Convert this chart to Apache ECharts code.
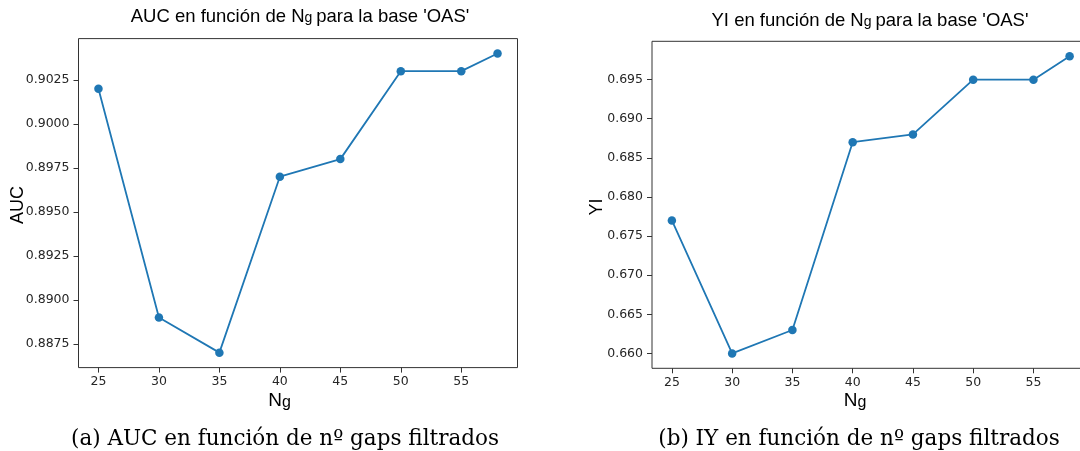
<!DOCTYPE html>
<html><head><meta charset="utf-8">
<script src="https://cdn.jsdelivr.net/npm/echarts@6/dist/echarts.min.js"></script>
<style>html,body{margin:0;padding:0;background:#fff}#c{width:1080px;height:451px}</style>
</head><body><div id="c"></div>
<script>
const ng = [25, 30, 35, 40, 45, 50, 55, 58];
const auc = [0.902, 0.889, 0.887, 0.897, 0.898, 0.903, 0.903, 0.904];
const yi = [0.677, 0.660, 0.663, 0.687, 0.688, 0.695, 0.695, 0.698];
const xTicks = [25, 30, 35, 40, 45, 50, 55];
const aucTicks = [0.8875, 0.8900, 0.8925, 0.8950, 0.8975, 0.9000, 0.9025];
const yiTicks = [0.660, 0.665, 0.670, 0.675, 0.680, 0.685, 0.690, 0.695];

const chart = echarts.init(document.getElementById('c'), null, {renderer: 'canvas'});
const C = '#1f77b4';
const tickFont = {fontFamily: 'DejaVu Sans', fontSize: 12.5, color: '#262626'};
function pad(arr, m) { const lo = Math.min(...arr), hi = Math.max(...arr), d = (hi - lo) * m; return [lo - d, hi + d]; }
const xr = pad(ng, 0.05), ar = pad(auc, 0.05), yr = pad(yi, 0.05);
function xAx(i) {
  return {type: 'value', gridIndex: i, min: xr[0], max: xr[1],
    axisLine: {show: false}, splitLine: {show: false},
    axisTick: {show: true, length: 5, customValues: xTicks, lineStyle: {color: '#333'}},
    axisLabel: Object.assign({customValues: xTicks, margin: 8}, tickFont)};
}
function yAx(i, r, t, dec) {
  return {type: 'value', gridIndex: i, min: r[0], max: r[1],
    axisLine: {show: false}, splitLine: {show: false},
    axisTick: {show: true, length: 5, customValues: t, lineStyle: {color: '#333'}},
    axisLabel: Object.assign({customValues: t, margin: 9, formatter: v => v.toFixed(dec)}, tickFont)};
}
const lab = (x, y, txt, size, extra) => Object.assign({type: 'text', x: x, y: y,
  style: {text: txt, fill: '#000', font: size + 'px "Liberation Sans"', align: 'center', verticalAlign: 'middle'}}, extra || {});
const titleRich = (a, b, x, y) => ({type: 'text', x: x, y: y, style: {
  text: '{n|' + a + 'N}{g|g }{n|' + b + '}', fill: '#000', align: 'center', verticalAlign: 'middle',
  rich: {n: {fontFamily: 'Liberation Sans', fontSize: 18.5, color: '#000'},
         g: {fontFamily: 'Liberation Sans', fontSize: 14, color: '#000', padding: [3, 0, 0, 0]}}}});
const cap = (x, y, txt) => ({type: 'text', x: x, y: y, style: {text: txt, fill: '#000',
  font: '21.5px "DejaVu Serif"', align: 'center', verticalAlign: 'middle'}});
const ngLab = (x, y) => ({type: 'text', x: x, y: y, style: {text: '{n|N}{g|g}', fill: '#000', align: 'center', verticalAlign: 'middle',
  rich: {n: {fontFamily: 'Liberation Sans', fontSize: 19, color: '#000'}, g: {fontFamily: 'Liberation Sans', fontSize: 16, color: '#000', padding: [4, 0, 0, 0]}}}});

chart.setOption({
  backgroundColor: '#fff',
  animation: false,
  grid: [
    {left: 78.5, top: 38.6, width: 439, height: 329, show: true, borderColor: '#333', borderWidth: 1, backgroundColor: 'transparent', outerBoundsMode: 'none'},
    {left: 652, top: 41.3, width: 437.5, height: 327, show: true, borderColor: '#333', borderWidth: 1, backgroundColor: 'transparent', outerBoundsMode: 'none'}
  ],
  xAxis: [xAx(0), xAx(1)],
  yAxis: [yAx(0, ar, aucTicks, 4), yAx(1, yr, yiTicks, 3)],
  series: [
    {type: 'line', xAxisIndex: 0, yAxisIndex: 0, data: ng.map((x, i) => [x, auc[i]]),
      symbol: 'circle', symbolSize: 8.5, itemStyle: {color: C}, lineStyle: {color: C, width: 1.8}},
    {type: 'line', xAxisIndex: 1, yAxisIndex: 1, data: ng.map((x, i) => [x, yi[i]]),
      symbol: 'circle', symbolSize: 8.5, itemStyle: {color: C}, lineStyle: {color: C, width: 1.8}}
  ],
  graphic: [
    titleRich('AUC en función de ', 'para la base \'OAS\'', 300, 17),
    titleRich('YI en función de ', 'para la base \'OAS\'', 870, 20.5),
    lab(18, 205, 'AUC', 18, {rotation: Math.PI / 2}),
    lab(597, 207, 'YI', 18, {rotation: Math.PI / 2}),
    ngLab(279.5, 401),
    ngLab(855, 401),
    cap(285, 439, '(a) AUC en función de nº gaps filtrados'),
    cap(859, 439, '(b) IY en función de nº gaps filtrados')
  ]
});
</script></body></html>
